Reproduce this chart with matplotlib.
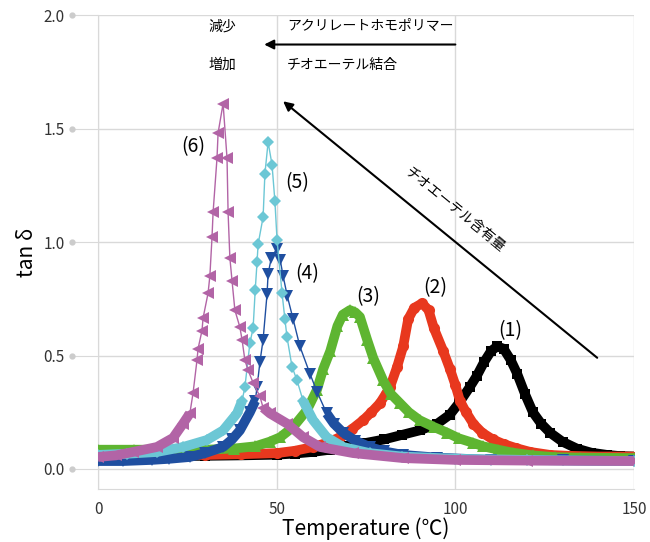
import numpy as np
import matplotlib
matplotlib.use("Agg")
import matplotlib.pyplot as plt
import matplotlib.transforms as mtransforms

plt.rcParams["font.family"] = ["Noto Sans CJK JP", "DejaVu Sans"]

# --- data (temperature in degC, tan delta) ---
x1 = [0, 10, 20, 30, 40, 50, 55, 60, 65, 70, 75, 80, 85, 90, 95, 98.5, 101, 104, 106, 108,
      110, 111.7, 113.5, 115.5, 117.3, 119.5, 121.7, 124, 126.5, 130, 134, 138, 142.5, 146, 150]
y1 = [0.055, 0.056, 0.057, 0.058, 0.06, 0.063, 0.068, 0.075, 0.085, 0.1, 0.115, 0.13, 0.15,
      0.17, 0.2, 0.24, 0.29, 0.36, 0.41, 0.47, 0.52, 0.54, 0.53, 0.48, 0.42, 0.33, 0.25, 0.2,
      0.16, 0.12, 0.09, 0.072, 0.062, 0.057, 0.055]

x2 = [0, 10, 20, 30, 40, 50, 55, 60.2, 64, 67.7, 71, 74.2, 76.5, 78.9, 80.5, 81.7, 83.7, 85.4,
      86.8, 88.5, 90.7, 92.5, 94, 96.6, 98.5, 100, 101.3, 103, 105, 107.5, 110.5, 113.5, 117,
      121, 126.5, 132, 140, 150]
y2 = [0.06, 0.06, 0.06, 0.062, 0.065, 0.07, 0.08, 0.097, 0.115, 0.14, 0.175, 0.215, 0.25, 0.29,
      0.33, 0.36, 0.45, 0.54, 0.66, 0.71, 0.73, 0.70, 0.62, 0.52, 0.44, 0.37, 0.3, 0.25, 0.2,
      0.16, 0.13, 0.11, 0.092, 0.075, 0.062, 0.058, 0.055, 0.055]

x3 = [0, 10, 20, 30, 38, 44, 48, 51, 54.6, 58.5, 61.3, 63, 65, 67, 68.5, 70.5, 72, 73.3, 75.3,
      77, 79.8, 82, 84.5, 87, 90, 94, 97.7, 101, 105, 107.8, 112, 116, 121.7, 128, 135, 150]
y3 = [0.085, 0.085, 0.085, 0.085, 0.09, 0.1, 0.12, 0.14, 0.185, 0.26, 0.35, 0.44, 0.52, 0.63,
      0.68, 0.70, 0.69, 0.67, 0.57, 0.49, 0.39, 0.33, 0.29, 0.25, 0.215, 0.185, 0.16, 0.135,
      0.115, 0.1, 0.085, 0.072, 0.06, 0.052, 0.05, 0.048]

x4 = [0, 7, 15, 20, 25.7, 30, 35, 37.5, 39.7, 42.5, 44, 44.5, 45.3, 46.2, 47.3, 47.6, 48.5, 50,
      51, 51.8, 53, 54.6, 56.5, 59.3, 61.3, 64, 66, 68.6, 72, 76, 80, 85.4, 95, 110, 130, 150]
y4 = [0.035, 0.035, 0.04, 0.045, 0.053, 0.07, 0.097, 0.13, 0.17, 0.25, 0.30, 0.36, 0.47, 0.57,
      0.77, 0.86, 0.93, 0.97, 0.92, 0.85, 0.76, 0.66, 0.54, 0.42, 0.34, 0.245, 0.2, 0.16,
      0.125, 0.097, 0.078, 0.062, 0.05, 0.04, 0.038, 0.035]

x5 = [0, 8, 16.5, 23.8, 30.5, 35, 38.9, 40.3, 41.1, 42.5, 43.4, 44, 44.5, 44.8, 46.2, 46.7,
      47.6, 48.7, 49.5, 50.1, 51.5, 52.3, 52.9, 54.3, 55.7, 57.4, 60.2, 64, 68.6, 76, 85, 100,
      120, 150]
y5 = [0.062, 0.067, 0.075, 0.097, 0.128, 0.17, 0.245, 0.30, 0.36, 0.555, 0.62, 0.79, 0.91,
      0.99, 1.11, 1.30, 1.44, 1.34, 1.18, 1.01, 0.775, 0.66, 0.58, 0.45, 0.39, 0.30, 0.215,
      0.14, 0.097, 0.07, 0.055, 0.045, 0.04, 0.035]

x6 = [0, 5, 9.8, 16.5, 21, 23.8, 25.7, 26.6, 27.7, 28, 29.1, 29.4, 30.8, 31.3, 31.9, 32.2,
      33.3, 33.6, 35, 36.1, 36.4, 36.9, 37.5, 38.3, 39.7, 40.3, 41.1, 42, 43.4, 45.3, 46.2,
      48.1, 52.9, 57.4, 62.1, 71.4, 85.4, 100, 120, 150]
y6 = [0.053, 0.06, 0.075, 0.097, 0.137, 0.20, 0.245, 0.335, 0.48, 0.53, 0.61, 0.665, 0.775,
      0.85, 1.02, 1.13, 1.37, 1.48, 1.61, 1.37, 1.13, 0.93, 0.83, 0.70, 0.625, 0.57, 0.48,
      0.435, 0.38, 0.32, 0.27, 0.245, 0.20, 0.14, 0.097, 0.07, 0.048, 0.04, 0.037, 0.035]

series = [
    (x1, y1, "#000000", "s", 7, 9.0, "(1)", 115.3, 0.61),
    (x2, y2, "#e8381e", "o", 8, 9.0, "(2)", 94.3, 0.80),
    (x3, y3, "#5eb531", "^", 9, 9.0, "(3)", 75.6, 0.76),
    (x4, y4, "#1f4fa0", "v", 8, 0.32, "(4)", 58.5, 0.86),
    (x5, y5, "#6cc7d5", "D", 6, 0.32, "(5)", 55.7, 1.26),
    (x6, y6, "#b264a6", "<", 8, 0.30, "(6)", 26.6, 1.42),
]

fig = plt.figure(figsize=(6.5, 5.42), dpi=100)
ax = fig.add_axes([0.1508, 0.097, 0.8246, 0.8753])

grid_c = "#d9d9d9"
ax.set_xlim(0, 150)
ax.set_ylim(-0.09, 2.0)
ax.set_xticks([0, 50, 100, 150])
ax.set_yticks([0.0, 0.5, 1.0, 1.5, 2.0])
ax.set_yticklabels(["0.0", "0.5", "1.0", "1.5", "2.0"])
ax.grid(True, color=grid_c, linewidth=1)
ax.set_axisbelow(True)
for side in ["top", "right"]:
    ax.spines[side].set_visible(False)
for side in ["left", "bottom"]:
    ax.spines[side].set_color(grid_c)
ax.tick_params(axis="y", length=19, color=grid_c, pad=5, labelsize=11, labelcolor="#333333")
ax.tick_params(axis="x", length=0, pad=8, labelsize=11, labelcolor="#333333")

# grey dots at the outer end of the y ticks
dot_tr = mtransforms.blended_transform_factory(ax.transAxes, ax.transData)
ax.plot([-0.049] * 5, [0.0, 0.5, 1.0, 1.5, 2.0], "o", ms=3.5, color="#cccccc",
        transform=dot_tr, clip_on=False)

for i, (x, y, c, m, ms, thr, lab, lx, ly) in enumerate(series):
    x = np.array(x)
    y = np.array(y)
    band = np.where(y < thr, y, np.nan)
    ax.plot(x, band, color=c, lw=7, solid_capstyle="butt", zorder=2 + i)
    ax.plot(x, y, color=c, lw=1, marker=m, ms=ms, markeredgewidth=0, zorder=2 + i)
    ax.text(lx, ly, lab, fontsize=14, ha="center", va="center", zorder=10)

ax.set_xlabel("Temperature (℃)", fontsize=15, labelpad=0)
ax.set_ylabel("tan δ", fontsize=15, labelpad=4)

# top annotation
ax.text(34.7, 1.95, "減少", fontsize=10, ha="center", va="center")
ax.text(52.9, 1.95, "アクリレートホモポリマー", fontsize=10, ha="left", va="center")
ax.text(34.7, 1.78, "増加", fontsize=10, ha="center", va="center")
ax.text(52.9, 1.78, "チオエーテル結合", fontsize=10, ha="left", va="center")
ax.annotate("", xy=(46.5, 1.87), xytext=(100, 1.87),
            arrowprops=dict(arrowstyle="-|>", color="black", lw=1.5,
                            mutation_scale=14, shrinkA=0, shrinkB=0))

# diagonal arrow
ax.annotate("", xy=(51.8, 1.62), xytext=(139.7, 0.49),
            arrowprops=dict(arrowstyle="-|>", color="black", lw=1.5,
                            mutation_scale=14, shrinkA=0, shrinkB=0))
ax.text(100, 1.14, "チオエーテル含有量", fontsize=10, rotation=-39.5,
        ha="center", va="center", rotation_mode="anchor")

fig.savefig("out.png", dpi=100)
